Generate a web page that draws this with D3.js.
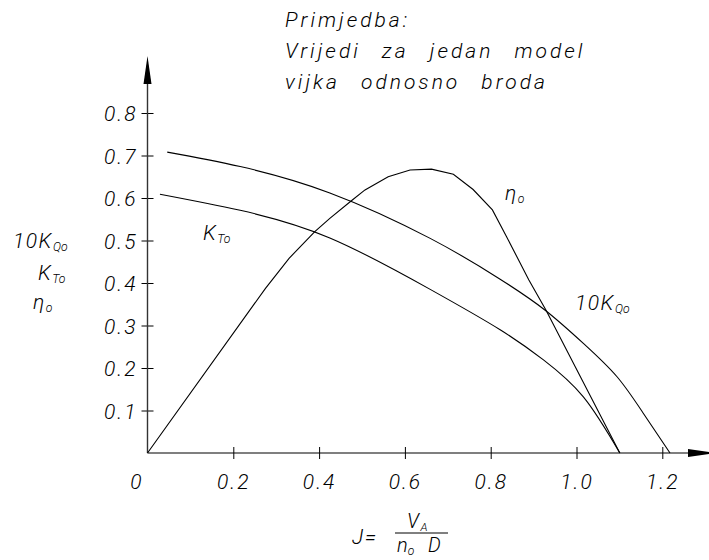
<!DOCTYPE html>
<html lang="hr">
<head>
<meta charset="utf-8">
<title>Dijagram slobodne vožnje vijka</title>
<script src="https://d3js.org/d3.v7.min.js"></script>
<style>
  body { margin: 0; background: #fff; }
  svg text { font-family: Roboto, "DejaVu Sans", sans-serif; font-style: italic; font-weight: 300; fill: #000; }
</style>
</head>
<body>
<script>
// J values and curves
var jKQ  = [0.046, 0.216, 0.425, 0.659, 0.822, 0.927, 1.016, 1.094, 1.156, 1.218];
var kq10 = [0.708, 0.674, 0.612, 0.505, 0.409, 0.336, 0.258, 0.180, 0.093, 0];

var jKT = [0.029, 0.216, 0.425, 0.659, 0.822, 0.923, 1.016, 1.101];
var kt  = [0.609, 0.571, 0.506, 0.385, 0.290, 0.219, 0.132, 0];

var jEta = [0, 0.275, 0.33, 0.39, 0.425, 0.476, 0.507, 0.561, 0.612, 0.662, 0.713, 0.759, 0.804, 0.837, 0.889, 0.929, 1.101];
var eta  = [0, 0.3875, 0.458, 0.521, 0.552, 0.594, 0.619, 0.650, 0.666, 0.668, 0.656, 0.620, 0.572, 0.509, 0.407, 0.336, 0];

var xTicks = [0, 0.2, 0.4, 0.6, 0.8, 1.0, 1.2];
var xLabels = ["0", "0.2", "0.4", "0.6", "0.8", "1.0", "1.2"];
var yTicks = [0.1, 0.2, 0.3, 0.4, 0.5, 0.6, 0.7, 0.8];
var noteLines = ["Primjedba:", "Vrijedi za jedan model", "vijka odnosno broda"];

var w = 709, h = 560;

var svg = d3.select("body").append("svg")
    .attr("width", w)
    .attr("height", h);

var x = d3.scaleLinear().domain([0, 1.2]).range([147.5, 662.3]);
var y = d3.scaleLinear().domain([0, 0.8]).range([453, 113]);

// axes
var gx = svg.append("g").attr("transform", "translate(0," + y(0) + ")")
    .call(d3.axisBottom(x).tickValues(xTicks).tickSize(0).tickFormat(function(d, i) { return xLabels[i]; }));
gx.select(".domain").remove();
gx.selectAll(".tick line").attr("y1", -6).attr("y2", 6).attr("stroke", "#000");
gx.selectAll(".tick").filter(function(d) { return d === 0; }).select("line").remove();
gx.selectAll(".tick text")
    .attr("y", 36).attr("dy", null)
    .style("font-size", "21px").style("letter-spacing", "2px")
    .attr("x", function(d) { return d === 0 ? -11 : 0; });

var gy = svg.append("g").attr("transform", "translate(" + x(0) + ",0)")
    .call(d3.axisLeft(y).tickValues(yTicks).tickSize(0).tickFormat(d3.format(".1f")));
gy.select(".domain").remove();
gy.selectAll(".tick line").attr("x1", -6).attr("x2", 6).attr("stroke", "#000");
gy.selectAll(".tick text")
    .attr("x", -10).attr("dy", "0.36em")
    .style("font-size", "21px").style("letter-spacing", "2px");

// axis lines with arrows
svg.append("line")
    .attr("x1", x(0)).attr("x2", 690).attr("y1", y(0)).attr("y2", y(0))
    .attr("stroke", "#000").attr("stroke-width", 1.2);
svg.append("path")
    .attr("d", "M688," + (y(0) - 4) + "L716," + y(0) + "L688," + (y(0) + 4) + "Z")
    .attr("fill", "#000");
svg.append("line")
    .attr("x1", x(0)).attr("x2", x(0)).attr("y1", y(0)).attr("y2", 84)
    .attr("stroke", "#333").attr("stroke-width", 1.4);
svg.append("path")
    .attr("d", "M" + (x(0) - 4) + ",84L" + x(0) + ",56L" + (x(0) + 4) + ",84Z")
    .attr("fill", "#000");

// curves
var smooth = d3.line().x(function(d) { return x(d[0]); }).y(function(d) { return y(d[1]); }).curve(d3.curveNatural);
var straight = d3.line().x(function(d) { return x(d[0]); }).y(function(d) { return y(d[1]); });

svg.append("path").datum(d3.zip(jKQ, kq10))
    .attr("d", smooth).attr("fill", "none").attr("stroke", "#000").attr("stroke-width", 1.1);
svg.append("path").datum(d3.zip(jKT, kt))
    .attr("d", smooth).attr("fill", "none").attr("stroke", "#000").attr("stroke-width", 1.1);
svg.append("path").datum(d3.zip(jEta, eta))
    .attr("d", straight).attr("fill", "none").attr("stroke", "#000").attr("stroke-width", 1.1);

// label with subscript
function label(px, py, main, sub, size) {
  var t = svg.append("text").attr("x", px).attr("y", py).style("font-size", size + "px");
  t.append("tspan").text(main).style("letter-spacing", "1.5px");
  t.append("tspan").text(sub).attr("dy", 3).style("font-size", (size * 0.58) + "px");
  return t;
}

label(13, 248, "10K", "Qo", 21);
label(38, 280, "K", "To", 21);
label(33, 309, "η", "o", 21);

label(203, 240, "K", "To", 21);
label(505, 200, "η", "o", 21);
label(575, 310, "10K", "Qo", 21);

// note
svg.selectAll("text.note").data(noteLines).enter().append("text")
    .attr("class", "note")
    .attr("x", 285)
    .attr("y", function(d, i) { return 27 + i * 31; })
    .style("font-size", "21px")
    .style("letter-spacing", "3px")
    .style("word-spacing", "13px")
    .text(function(d) { return d; });

// J = VA / (no D)
svg.append("text").attr("x", 352).attr("y", 544).style("font-size", "21px").style("letter-spacing", "1.5px").text("J=");
svg.append("line").attr("x1", 395).attr("x2", 448).attr("y1", 533).attr("y2", 533)
    .attr("stroke", "#000").attr("stroke-width", 1);
label(407, 528, "V", "A", 20);
var den = svg.append("text").attr("x", 397).attr("y", 552).style("font-size", "20px");
den.append("tspan").text("n");
den.append("tspan").text("o").attr("dy", 3).style("font-size", "12px");
den.append("tspan").text("D").attr("x", 428).attr("dy", -3);
</script>
</body>
</html>
